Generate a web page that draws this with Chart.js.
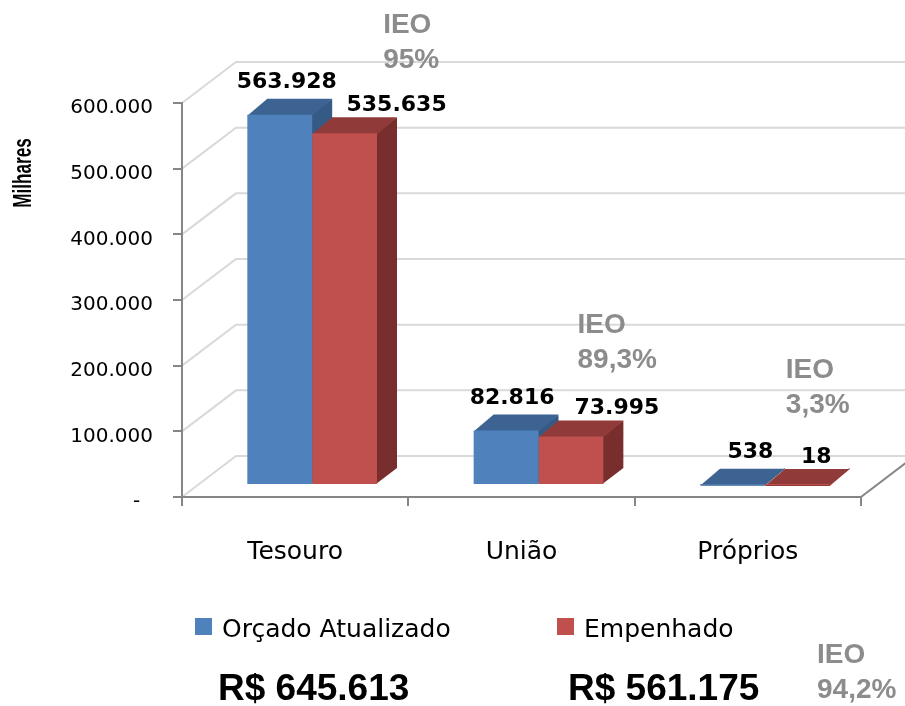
<!DOCTYPE html>
<html>
<head>
<meta charset="utf-8">
<title>Orçado x Empenhado</title>
<script src="https://cdn.jsdelivr.net/npm/chart.js@4.4.1/dist/chart.umd.min.js"></script>
<style>
  html, body { margin: 0; padding: 0; background: #fff; }
  #wrap { width: 905px; height: 706px; }
</style>
</head>
<body>
<div id="wrap"><canvas id="chart" width="905" height="706"></canvas></div>
<script>
// data (milhares de R$)
const categories = ['Tesouro', 'União', 'Próprios'];
const seriesNames = ['Orçado Atualizado', 'Empenhado'];
const orcadoValues = [563928, 82816, 538];
const empenhadoValues = [535635, 73995, 18];
const ieoValues = ['95%', '89,3%', '3,3%'];
const yTicks = [0, 100000, 200000, 300000, 400000, 500000, 600000];
const totals = ['R$ 645.613', 'R$ 561.175'];
const totalIeo = '94,2%';

// look of the 3D-ish Excel chart
const frontColors = ['#4F81BD', '#C0504D'];
const topColors = ['#3D6393', '#903B39'];
const sideColors = ['#365A86', '#772E2C'];
const depth = { bx: 17, by: -12, dx: 20, dy: -16, wx: 54, wy: -41 };
const labelShift = [[7, 6, 18], [52, 46, 19]];
const labelLift = [-11, -6];
const ieoShift = [[88, 33], [56, 333], [38, 378]];

function fmt(v) {
  if (v === 0) return '-  ';
  return String(v).replace(/\B(?=(\d{3})+(?!\d))/g, '.');
}

function poly(ctx, pts, color) {
  ctx.beginPath();
  ctx.moveTo(pts[0][0], pts[0][1]);
  for (let k = 1; k < pts.length; k++) ctx.lineTo(pts[k][0], pts[k][1]);
  ctx.closePath();
  ctx.fillStyle = color;
  ctx.fill();
}

const bars3d = {
  id: 'bars3d',
  beforeDraw(chart) {
    const ctx = chart.ctx;
    const a = chart.chartArea;
    const ys = chart.scales.y;
    ctx.save();
    ctx.fillStyle = '#fff';
    ctx.fillRect(0, 0, chart.width, chart.height);
    // side wall + back wall gridlines
    ctx.strokeStyle = '#D9D9D9';
    ctx.lineWidth = 2;
    yTicks.forEach(v => {
      const y = ys.getPixelForValue(v);
      ctx.beginPath();
      ctx.moveTo(a.left, y);
      ctx.lineTo(a.left + depth.wx, y + depth.wy);
      ctx.lineTo(chart.width + 10, y + depth.wy);
      ctx.stroke();
    });
    // right edge of the floor
    ctx.strokeStyle = '#868686';
    ctx.beginPath();
    ctx.moveTo(a.right, a.bottom);
    ctx.lineTo(a.right + depth.wx, a.bottom + depth.wy);
    ctx.stroke();
    ctx.restore();
  },
  beforeDatasetsDraw(chart) {
    const ctx = chart.ctx;
    const { bx, by, dx, dy } = depth;
    categories.forEach((c, i) => {
      chart.data.datasets.forEach((ds, d) => {
        const bar = chart.getDatasetMeta(d).data[i];
        const l = bar.x - bar.width / 2 + bx;
        const r = bar.x + bar.width / 2 + bx;
        const t = bar.y + by;
        const b = bar.base + by;
        poly(ctx, [[r - 1, t], [r + dx, t + dy], [r + dx, b + dy], [r - 1, b]], sideColors[d]);
        poly(ctx, [[l, t + 1], [l + dx, t + dy], [r + dx, t + dy], [r, t + 1]], topColors[d]);
      });
    });
    ctx.save();
    ctx.translate(bx, by);
  },
  afterDatasetsDraw(chart) {
    const ctx = chart.ctx;
    ctx.restore();
    ctx.save();
    ctx.font = 'bold 22px "DejaVu Sans"';
    ctx.fillStyle = '#000';
    ctx.textAlign = 'center';
    ctx.textBaseline = 'alphabetic';
    chart.data.datasets.forEach((ds, d) => {
      chart.getDatasetMeta(d).data.forEach((bar, i) => {
        const x = bar.x + depth.bx + labelShift[d][i];
        const y = bar.y + depth.by + depth.dy + labelLift[d];
        ctx.fillText(fmt(ds.data[i]), x, y);
      });
    });
    ctx.restore();
  },
  afterDraw(chart) {
    const ctx = chart.ctx;
    const xs = chart.scales.x;
    ctx.save();
    // axis title
    ctx.save();
    ctx.translate(24, 173);
    ctx.rotate(-Math.PI / 2);
    ctx.scale(0.9, 1.4);
    ctx.font = 'bold 19px "Liberation Sans"';
    ctx.fillStyle = '#000';
    ctx.textAlign = 'center';
    ctx.textBaseline = 'middle';
    ctx.fillText('Milhares', 0, 0);
    ctx.restore();

    // IEO per category
    ctx.font = 'bold 28px "Liberation Sans"';
    ctx.fillStyle = '#8C8C8C';
    ctx.textAlign = 'left';
    ctx.textBaseline = 'alphabetic';
    ieoValues.forEach((txt, i) => {
      const x = xs.getPixelForValue(i) + ieoShift[i][0];
      const y = ieoShift[i][1];
      ctx.fillText('IEO', x, y);
      ctx.fillText(txt, x, y + 35);
    });
    ctx.fillText('IEO', 817, 663);
    ctx.fillText(totalIeo, 817, 698);

    // legend
    const legendX = [195, 557];
    seriesNames.forEach((name, d) => {
      ctx.fillStyle = frontColors[d];
      ctx.fillRect(legendX[d], 618, 17, 17);
      ctx.fillStyle = '#000';
      ctx.font = '25px "DejaVu Sans"';
      ctx.fillText(name, legendX[d] + 27, 637);
    });

    // totals
    ctx.font = 'bold 37px "Liberation Sans"';
    ctx.fillStyle = '#000';
    ctx.fillText(totals[0], 218, 700);
    ctx.fillText(totals[1], 568, 700);
    ctx.restore();
  }
};

Chart.defaults.font.family = '"DejaVu Sans"';

new Chart(document.getElementById('chart'), {
  type: 'bar',
  data: {
    labels: categories,
    datasets: [
      { label: seriesNames[0], data: orcadoValues, backgroundColor: frontColors[0], clip: false },
      { label: seriesNames[1], data: empenhadoValues, backgroundColor: frontColors[1], clip: false }
    ]
  },
  options: {
    responsive: false,
    animation: false,
    devicePixelRatio: 1,
    layout: { padding: { top: 103, right: 44, bottom: 129, left: 0 } },
    datasets: { bar: { categoryPercentage: 0.573, barPercentage: 1, borderWidth: 0 } },
    plugins: { legend: { display: false }, tooltip: { enabled: false } },
    scales: {
      x: {
        offset: true,
        ticks: { font: { size: 25 }, color: '#000', padding: 31 },
        grid: { drawOnChartArea: false, drawTicks: true, tickLength: 9, color: '#868686', lineWidth: 2, offset: true },
        border: { display: true, color: '#868686', width: 2 },
        afterFit(s) { s.height = 80; }
      },
      y: {
        min: yTicks[0],
        max: yTicks[yTicks.length - 1],
        ticks: { stepSize: yTicks[1] - yTicks[0], callback: v => fmt(v), font: { size: 20 }, color: '#000', padding: 20, labelOffset: 5 },
        grid: { drawOnChartArea: false, drawTicks: true, tickLength: 9, color: '#868686', lineWidth: 2 },
        border: { display: true, color: '#868686', width: 2 },
        afterFit(s) { s.width = 182; }
      }
    }
  },
  plugins: [bars3d]
});
</script>
</body>
</html>
